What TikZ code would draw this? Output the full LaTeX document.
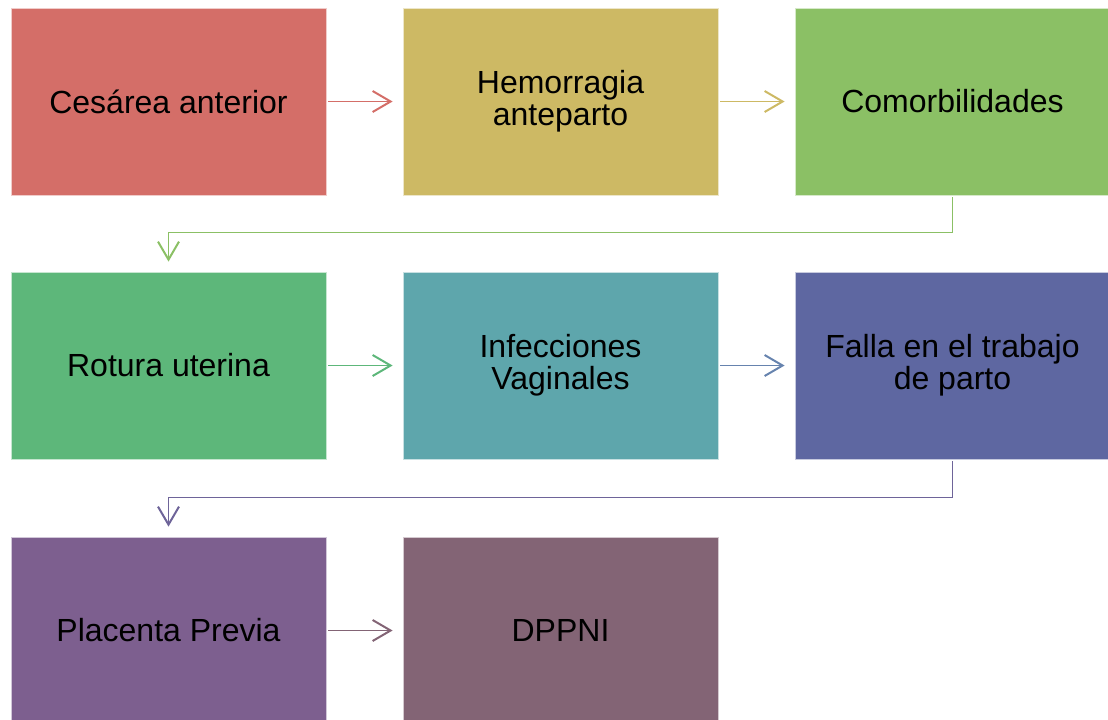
\documentclass[tikz,border=0pt]{standalone}
\usepackage{fontspec}
\setmainfont{Liberation Sans}
\usetikzlibrary{arrows.meta}
\definecolor{cRed}{HTML}{D46E68}
\definecolor{cKhaki}{HTML}{CDB964}
\definecolor{cLime}{HTML}{8BC065}
\definecolor{cGreen}{HTML}{5DB77A}
\definecolor{cTeal}{HTML}{5EA6AC}
\definecolor{cBlue}{HTML}{5E67A1}
\definecolor{cSteel}{HTML}{6683AE}
\definecolor{cPurple}{HTML}{7D5F8F}
\definecolor{cLink}{HTML}{6E6499}
\definecolor{cMauve}{HTML}{836475}

\tikzset{
  stagebox/.style={fill=#1, draw=#1!35, line width=0.4pt, minimum width=157.5pt,
    minimum height=93.5pt, align=center, inner sep=0pt,
    font=\fontsize{16}{16}\selectfont},
  flowarrow/.style={draw=#1, line width=0.6pt, shorten <=1pt, shorten >=5pt,
    -{Straight Barb[length=9pt,width=10.5pt,line width=1pt]}}
}

\begin{document}
\begin{tikzpicture}[x=0.5pt,y=-0.5pt]
\useasboundingbox (0,0) rectangle (1108,719);
\clip (0,0) rectangle (1108,719);

% Row 1
\node[stagebox=cRed] (ces) at (168.5,101.5) {Cesárea anterior};
\node[stagebox=cKhaki] (hem) at (560.5,101.5) {Hemorragia\\anteparto};
\node[stagebox=cLime] (com) at (952.5,101.5) {Comorbilidades};

% Row 2
\node[stagebox=cGreen] (rot) at (168.5,365.5) {Rotura uterina};
\node[stagebox=cTeal] (inf) at (560.5,365.5) {Infecciones\\Vaginales};
\node[stagebox=cBlue] (fal) at (952.5,365.5) {Falla en el trabajo\\de parto};

% Row 3
\node[stagebox=cPurple] (pla) at (168.5,630.5) {Placenta Previa};
\node[stagebox=cMauve] (dpp) at (560.5,630.5) {DPPNI};

% Arrows
\draw[flowarrow=cRed] (ces) -- (hem);
\draw[flowarrow=cKhaki] (hem) -- (com);
\draw[flowarrow=cLime] (com.south) -- ++(0,37) -| (rot.north);
\draw[flowarrow=cGreen] (rot) -- (inf);
\draw[flowarrow=cSteel] (inf) -- (fal);
\draw[flowarrow=cLink] (fal.south) -- ++(0,38) -| (pla.north);
\draw[flowarrow=cMauve] (pla) -- (dpp);
\end{tikzpicture}
\end{document}
